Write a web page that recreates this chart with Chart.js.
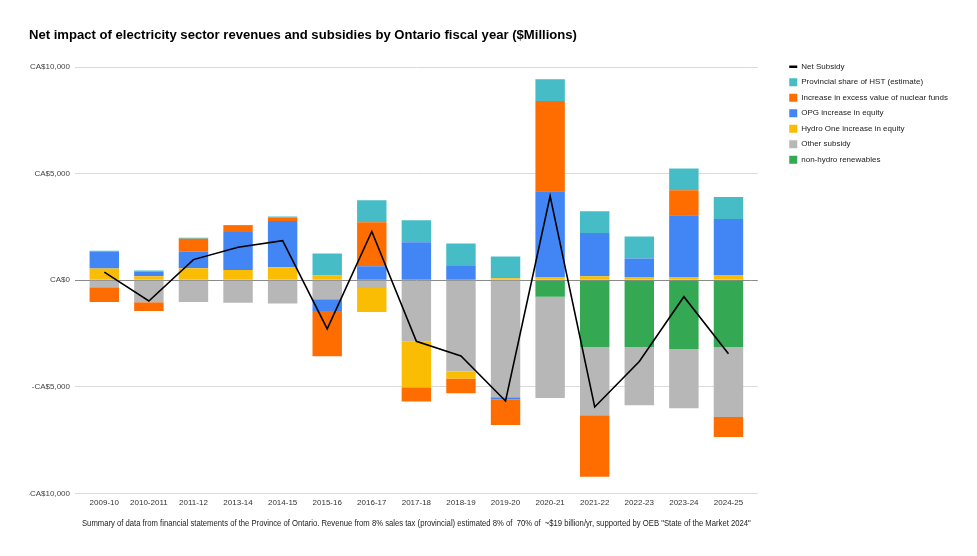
<!DOCTYPE html>
<html>
<head>
<meta charset="utf-8">
<script src="https://cdn.jsdelivr.net/npm/chart.js@4.4.1/dist/chart.umd.min.js"></script>
<style>
  html, body { margin: 0; padding: 0; background: #fff; }
  #wrap { width: 977px; height: 556px; position: relative; }
</style>
</head>
<body>
<div id="wrap"><canvas id="c"></canvas></div>
<script>
// ---- Data ($ millions) ----
const categories = ['2009-10','2010-2011','2011-12','2013-14','2014-15','2015-16','2016-17','2017-18','2018-19','2019-20','2020-21','2021-22','2022-23','2023-24','2024-25'];
const netSubsidy   = [380, -970, 970, 1550, 1860, -2280, 2290, -2860, -3550, -5660, 3950, -5940, -3810, -770, -3440];
const hstShare     = [40, 50, 50, 50, 50, 1030, 1030, 1030, 1050, 1020, 1020, 1020, 1030, 1020, 1030];
const nuclearFunds = [-690, -410, 610, 280, 160, -2120, 2060, -660, -690, -1190, 4230, -2880, 0, 1170, -940];
const opgEquity    = [800, 220, 780, 1780, 2170, -550, 660, 1780, 670, -110, 4050, 2030, 860, 2890, 2640];
const hydroOne     = [550, 190, 560, 480, 610, 230, -1130, -2160, -330, 90, 125, 190, 160, 160, 230];
const otherSubsidy = [-330, -1030, -1020, -1050, -1090, -890, -360, -2860, -4280, -5480, -4750, -3200, -2730, -2780, -3280];
const renewables   = [0, 0, 0, 0, 0, 0, 0, 0, 0, 0, -770, -3130, -3130, -3220, -3130];
const yTicks = [-10000, -5000, 0, 5000, 10000];

const FONT = '"Liberation Sans", Arial, Helvetica, sans-serif';
const gridColor = (ctx) => (ctx.tick && ctx.tick.value === 0) ? '#8a8a8a' : '#dadada';
const fmt = (v) => (v < 0 ? '-CA$' : 'CA$') + Math.abs(v).toLocaleString('en-US');

function bar(label, data, color, order) {
  return { type: 'bar', label, data, backgroundColor: color, borderWidth: 0,
           pointStyle: 'rect', stack: 'bars', order, yAxisID: 'y' };
}

const datasets = [
  { type: 'line', label: 'Net Subsidy', data: netSubsidy, borderColor: '#000000',
    backgroundColor: '#000000', borderWidth: 1.6, pointRadius: 0, pointHoverRadius: 0,
    tension: 0, pointStyle: 'line', stack: 'net', order: 0, yAxisID: 'y' },
  bar('Provincial share of HST (estimate)', hstShare, '#46BDC6', 6),
  bar('Increase in excess value of nuclear funds', nuclearFunds, '#FF6D01', 5),
  bar('OPG increase in equity', opgEquity, '#4285F4', 4),
  bar('Hydro One increase in equity', hydroOne, '#FBBC04', 3),
  bar('Other subsidy', otherSubsidy, '#B7B7B7', 2),
  bar('non-hydro renewables', renewables, '#34A853', 1)
];

Chart.defaults.font.family = FONT;

new Chart(document.getElementById('c'), {
  type: 'bar',
  data: { labels: categories, datasets },
  options: {
    responsive: true,
    maintainAspectRatio: false,
    animation: false,
    datasets: { bar: { categoryPercentage: 1.0, barPercentage: 0.66 } },
    layout: { padding: { left: 29, right: 19, top: 0, bottom: 27 } },
    scales: {
      x: {
        stacked: true,
        grid: { display: false, drawTicks: false },
        border: { display: false },
        ticks: { font: { size: 8 }, color: '#333', padding: 4, maxRotation: 0, autoSkip: false },
        title: {
          display: true,
          text: 'Summary of data from financial statements of the Province of Ontario. Revenue from 8% sales tax (provincial) estimated 8% of  70% of  ~$19 billion/yr, supported by OEB "State of the Market 2024"',
          font: { size: 8.2 }, color: '#222', padding: { top: 8, bottom: 0 }
        }
      },
      y: {
        stacked: true,
        min: -10000, max: 10000,
        afterBuildTicks: (s) => { s.ticks = yTicks.map(v => ({ value: v })); },
        ticks: { font: { size: 8 }, color: '#444', padding: 5, callback: (v) => fmt(v) },
        grid: { color: gridColor, tickColor: gridColor, tickLength: 7, lineWidth: 1 },
        border: { display: false },
        afterFit: (s) => { s.width = 53; }
      },
      y2: {
        position: 'right',
        min: -10000, max: 10000,
        afterBuildTicks: (s) => { s.ticks = yTicks.map(v => ({ value: v })); },
        ticks: { display: false },
        grid: { drawOnChartArea: false, color: gridColor, tickColor: gridColor, tickLength: 7 },
        border: { display: false },
        afterFit: (s) => { s.width = 31; }
      }
    },
    plugins: {
      title: {
        display: true,
        text: 'Net impact of electricity sector revenues and subsidies by Ontario fiscal year ($Millions)',
        align: 'start',
        color: '#000',
        font: { size: 13.1, weight: 'bold' },
        padding: { top: 28, bottom: 23.3 }
      },
      legend: {
        position: 'right',
        align: 'start',
        maxWidth: 400,
        title: { display: true, text: ' ', font: { size: 8 }, padding: { top: 45.6, bottom: 0 } },
        labels: {
          usePointStyle: true,
          pointStyleWidth: 8,
          boxWidth: 8,
          boxHeight: 8,
          padding: 7.5,
          color: '#222',
          font: { size: 8 },
          sort: (a, b) => a.datasetIndex - b.datasetIndex,
          generateLabels: (chart) => {
            const items = Chart.defaults.plugins.legend.labels.generateLabels(chart);
            items.forEach(it => {
              if (it.datasetIndex === 0) { it.lineWidth = 2.5; it.strokeStyle = '#000'; }
              else { it.lineWidth = 0; }
            });
            return items;
          }
        }
      },
      tooltip: { enabled: false }
    }
  }
});
</script>
</body>
</html>
